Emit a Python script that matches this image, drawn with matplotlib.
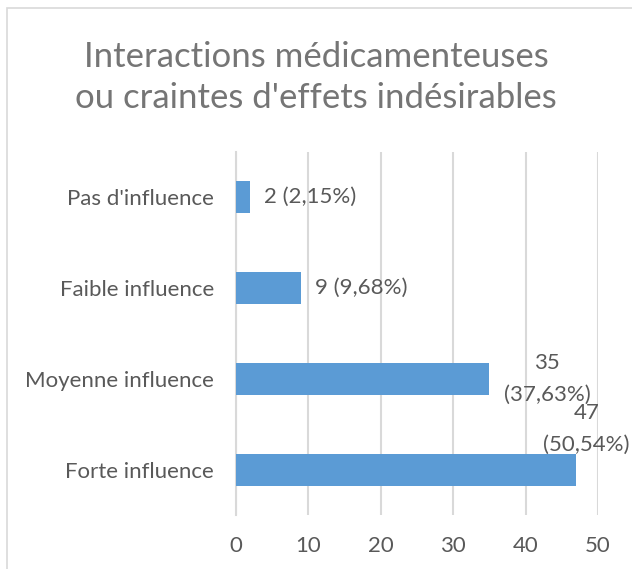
import matplotlib.pyplot as plt
from matplotlib.patches import Rectangle

# --- DATA ---
categories = ["Forte influence", "Moyenne influence", "Faible influence", "Pas d'influence"]
counts = [47, 35, 9, 2]
labels = ["47\n(50,54%)", "35\n(37,63%)", "9 (9,68%)", "2 (2,15%)"]
ticks = [0, 10, 20, 30, 40, 50]

BAR = "#5B9BD5"
GRID = "#D9D9D9"
TXT = "#595959"
FS = 16

plt.rcParams['font.family'] = ['Lato', 'DejaVu Sans']

fig = plt.figure(figsize=(6.32, 5.69), dpi=100)
ax = fig.add_axes([0.3734, 0.0949, 0.5728, 0.638])

ypos = list(range(len(categories)))
ax.barh(ypos, counts, height=0.35, color=BAR, zorder=3)

ax.set_xlim(0, 50)
ax.set_ylim(-0.5, 3.5)
ax.set_xticks(ticks)
ax.set_yticks(ypos)
ax.set_yticklabels(categories)
ax.tick_params(axis='both', length=0, colors=TXT, labelsize=FS)
ax.tick_params(axis='x', pad=15)
ax.tick_params(axis='y', pad=16)
ax.grid(axis='x', color=GRID, linewidth=1.5, zorder=0)
for s in ['top', 'right', 'bottom']:
    ax.spines[s].set_visible(False)
ax.spines['left'].set_color(GRID)
ax.spines['left'].set_linewidth(1.5)

# etiquetas de valor
for i, (v, lab) in enumerate(zip(counts, labels)):
    if "\n" in lab:
        if v == 35:
            ax.annotate(lab, (43.0, i), ha='center', va='center', color=TXT,
                        fontsize=FS, linespacing=1.7)
        else:
            ax.annotate(lab, (48.4, i + 0.45), ha='center', va='center', color=TXT,
                        fontsize=FS, linespacing=1.7)
    else:
        ax.annotate(lab, (v, i), xytext=(10, 0), textcoords='offset points',
                    ha='left', va='center', color=TXT, fontsize=FS)

fig.text(0.5, 0.864, "Interactions médicamenteuses\nou craintes d'effets indésirables",
         ha='center', va='center', fontsize=25, color="#757575", linespacing=1.33)

# borde del área del gráfico
fig.patches.append(Rectangle((7 / 632, -0.1), 1.2, 1 - 8 / 569 + 0.1,
                             transform=fig.transFigure, fill=False,
                             edgecolor=GRID, linewidth=1.2))

fig.savefig("out.png", dpi=100)
